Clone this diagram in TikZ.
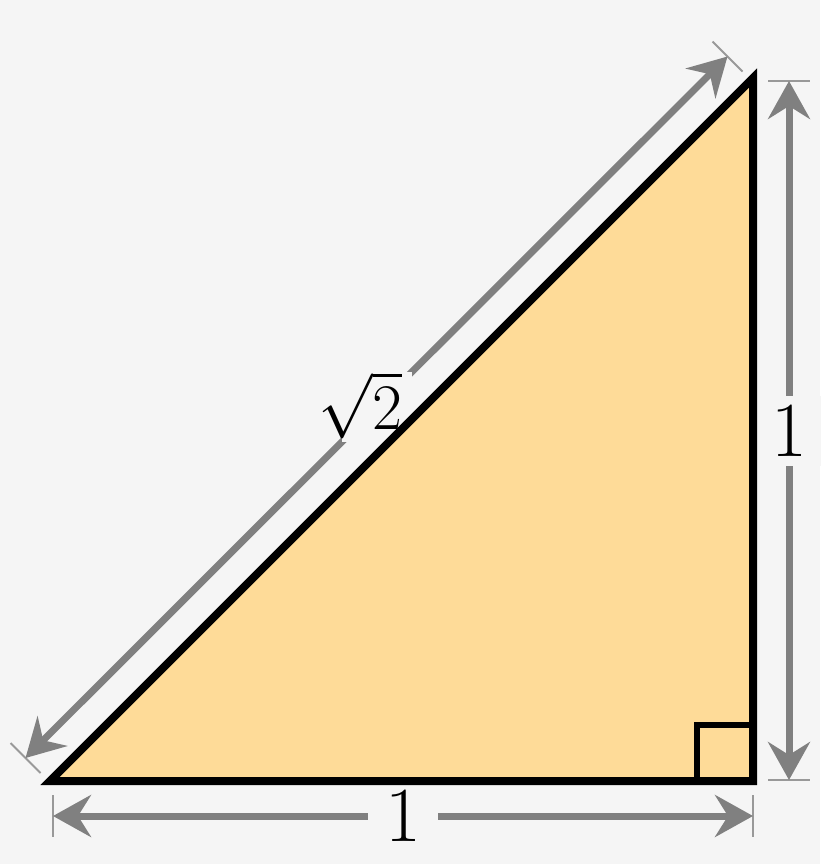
\documentclass[tikz,border=0pt]{standalone}
\usepackage{fix-cm}
\usepackage{amsmath}
\usetikzlibrary{arrows.meta,calc}

\definecolor{bgcol}{HTML}{F5F5F5}
\definecolor{trifill}{HTML}{FEDB98}
\definecolor{dimgray}{HTML}{808080}
\definecolor{tickgray}{HTML}{999999}

\tikzset{
  dimline/.style={draw=dimgray, line width=7pt},
  tickline/.style={draw=tickgray, line width=2pt},
  gap/.style={fill=bgcol, inner sep=0pt, minimum width=70pt, minimum height=70pt},
  numlabel/.style={font=\fontsize{78}{80}\selectfont},
}

\begin{document}
\begin{tikzpicture}[x=1pt, y=-1pt, >={Stealth[length=38pt,width=42pt,inset=13pt]}]
        % background
        \fill[bgcol] (0,0) rectangle (820,864);
        \useasboundingbox (0,0) rectangle (820,864);

        % triangle corners
        \coordinate (A) at (50,781);
        \coordinate (B) at (753,781);
        \coordinate (C) at (753,78);

        % ends of the dimension lines
        \coordinate (bl) at (53,816);
        \coordinate (br) at (753,816);
        \coordinate (rt) at (789,81);
        \coordinate (rb) at (789,780);
        \coordinate (dl) at (25.5,758);
        \coordinate (du) at (727.5,56.5);

        % tick marks
        \draw[tickline] ($(bl)+(0,-21)$) -- ($(bl)+(0,21)$);
        \draw[tickline] ($(br)+(0,-21)$) -- ($(br)+(0,21)$);
        \draw[tickline] ($(rt)+(-21,0)$) -- ($(rt)+(21,0)$);
        \draw[tickline] ($(rb)+(-21,0)$) -- ($(rb)+(21,0)$);
        \draw[tickline] ($(dl)+(-15,-15)$) -- ($(dl)+(15,15)$);
        \draw[tickline] ($(du)+(-15,-15)$) -- ($(du)+(15,15)$);

        % dimension arrows
        \draw[dimline, <->] (bl) -- (br) node[midway, gap, numlabel] (bottomlabel) {1};
        \draw[dimline, <->] (rt) -- (rb) node[midway, gap, numlabel] (rightlabel) {1};
        \draw[dimline, <->] (dl) -- (du) node[midway, gap] (hypgap) {};
        \node[font=\fontsize{65}{70}\selectfont] (hyplabel) at ([xshift=-16pt, yshift=2pt]hypgap) {$\sqrt{2}$};

        % triangle
        \draw[line width=8pt, fill=trifill, line join=miter] (A) -- (B) -- (C) -- cycle;

        % right angle mark
        \draw[line width=6pt] ($(B)+(0,-56)$) -| ($(B)+(-56,0)$);
    \end{tikzpicture}
\end{document}
